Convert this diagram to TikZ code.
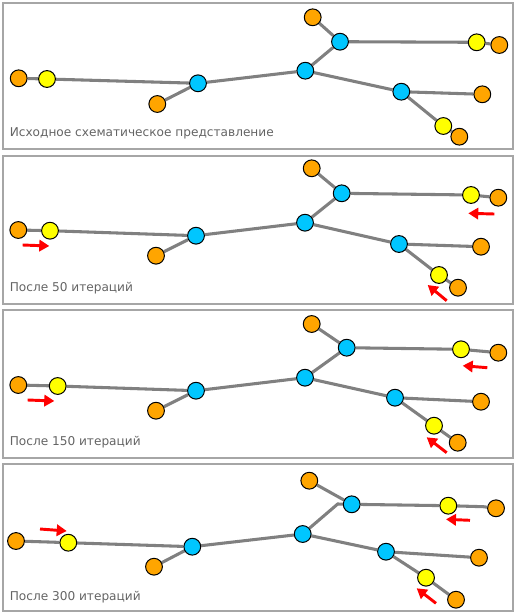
\documentclass[tikz,border=0pt]{standalone}
\usepackage{fontspec}
\setmainfont{DejaVu Sans}
\usetikzlibrary{arrows.meta,backgrounds}
\definecolor{nodeorange}{RGB}{255,165,0}
\definecolor{nodeblue}{RGB}{0,198,255}
\definecolor{nodeyellow}{RGB}{255,255,0}
\definecolor{edgegray}{RGB}{128,128,128}
\definecolor{framegray}{RGB}{166,166,166}
\definecolor{textgray}{RGB}{100,100,100}
\tikzset{every picture/.style={line width=0.75pt}}
\tikzset{
  vtx/.style={circle,draw=black,line width=0.75pt,minimum size=12.6pt,inner sep=0pt},
  ov/.style={vtx,fill=nodeorange},
  bv/.style={vtx,fill=nodeblue},
  yv/.style={vtx,fill=nodeyellow},
  edge/.style={draw=edgegray,line width=2.3pt},
  frame/.style={draw=framegray,line width=1.5pt},
  caption/.style={anchor=west,text=textgray,font=\fontsize{9.1}{11}\selectfont,inner sep=0pt},
  movearrow/.style={draw=red,line width=2.2pt,-{Triangle[length=7.5pt,width=8.5pt]}}
}

\begin{document}
\begin{tikzpicture}[x=0.75pt,y=0.75pt,yscale=-1,xscale=1]
\useasboundingbox (0,0) rectangle (515,614);

%Frames
\draw[frame] (2.5,2.5) rectangle (512.5,149);
\draw[frame] (2.5,156) rectangle (512.5,304);
\draw[frame] (2.5,310) rectangle (512.5,458);
\draw[frame] (2.5,464) rectangle (512.5,611);

%Panel 1
\node[ov] (oL1) at (18.7,78.3) {};
\node[yv] (yL1) at (47,79) {};
\node[bv] (bL1) at (198,83.3) {};
\node[ov] (oBL1) at (157.3,104) {};
\node[bv] (bC1) at (305.3,70.7) {};
\node[ov] (oT1) at (312.7,17.3) {};
\node[bv] (bT1) at (340,41.7) {};
\node[yv] (yR1) at (476.7,42.3) {};
\node[ov] (oR1) at (499.3,45) {};
\node[bv] (bR1) at (401.3,91.7) {};
\node[ov] (oRM1) at (482.3,94.3) {};
\node[yv] (yB1) at (443.3,126) {};
\node[ov] (oB1) at (459.3,136.7) {};
\begin{scope}[on background layer]
\draw[edge] (oL1) -- (yL1) -- (bL1) -- (bC1) -- (bT1) -- (yR1) -- (oR1);
\draw[edge] (oBL1) -- (bL1);
\draw[edge] (oT1) -- (bT1);
\draw[edge] (bC1) -- (bR1) -- (oRM1);
\draw[edge] (bR1) -- (yB1) -- (oB1);
\end{scope}
\node[caption] (cap1) at (9.3,133.3) {Исходное схематическое представление};

%Panel 2
\node[ov] (oL2) at (18.3,230) {};
\node[yv] (yL2) at (50,230.7) {};
\node[bv] (bL2) at (196,235.7) {};
\node[ov] (oBL2) at (156,255.7) {};
\node[bv] (bC2) at (305,222.7) {};
\node[ov] (oT2) at (311.7,168.3) {};
\node[bv] (bT2) at (341.7,193.3) {};
\node[yv] (yR2) at (471,195) {};
\node[ov] (oR2) at (498.3,197.7) {};
\node[bv] (bR2) at (399,244) {};
\node[ov] (oRM2) at (481,246.7) {};
\node[yv] (yB2) at (439,275) {};
\node[ov] (oB2) at (458,287.7) {};
\begin{scope}[on background layer]
\draw[edge] (oL2) -- (yL2) -- (bL2) -- (bC2) -- (bT2) -- (yR2) -- (oR2);
\draw[edge] (oBL2) -- (bL2);
\draw[edge] (oT2) -- (bT2);
\draw[edge] (bC2) -- (bR2) -- (oRM2);
\draw[edge] (bR2) -- (yB2) -- (oB2);
\end{scope}
\draw[movearrow] (22.7,245) -- (49.3,246);
\draw[movearrow] (494.3,214) -- (468.3,213.3);
\draw[movearrow] (446.7,300.7) -- (427.7,285);
\node[caption] (cap2) at (9.3,287.7) {После 50 итераций};

%Panel 3
\node[ov] (oL3) at (18.3,385) {};
\node[yv] (yL3) at (57.7,386) {};
\node[bv] (bL3) at (196,390.7) {};
\node[ov] (oBL3) at (156,410.7) {};
\node[bv] (bC3) at (305,377.7) {};
\node[ov] (oT3) at (311.7,324) {};
\node[bv] (bT3) at (346.7,347.7) {};
\node[yv] (yR3) at (461,349.3) {};
\node[ov] (oR3) at (498.3,352.7) {};
\node[bv] (bR3) at (395,397.7) {};
\node[ov] (oRM3) at (481,401.7) {};
\node[yv] (yB3) at (434,425.7) {};
\node[ov] (oB3) at (457.7,442.7) {};
\begin{scope}[on background layer]
\draw[edge] (oL3) -- (yL3) -- (bL3) -- (bC3) -- (bT3) -- (yR3) -- (oR3);
\draw[edge] (oBL3) -- (bL3);
\draw[edge] (oT3) -- (bT3);
\draw[edge] (bC3) -- (bR3) -- (oRM3);
\draw[edge] (bR3) -- (yB3) -- (oB3);
\end{scope}
\draw[movearrow] (27.7,400) -- (54.3,401);
\draw[movearrow] (487.3,367.7) -- (462.7,365.7);
\draw[movearrow] (446.7,452.7) -- (426.7,437.3);
\node[caption] (cap3) at (9.3,441.7) {После 150 итераций};

%Panel 4
\node[ov] (oL4) at (16,541) {};
\node[yv] (yL4) at (68.3,542.7) {};
\node[bv] (bL4) at (192.3,546.7) {};
\node[ov] (oBL4) at (154,566.7) {};
\node[bv] (bC4) at (302.7,534) {};
\node[ov] (oT4) at (309.3,480.7) {};
\node[bv] (bT4) at (351.7,504.3) {};
\node[yv] (yR4) at (448.3,505.7) {};
\node[ov] (oR4) at (496,508.3) {};
\node[bv] (bR4) at (386,551.7) {};
\node[ov] (oRM4) at (479,557.7) {};
\node[yv] (yB4) at (426,577.7) {};
\node[ov] (oB4) at (456,599.7) {};
\coordinate (kL4) at (48.3,542);
\coordinate (kT4) at (337.7,504);
\coordinate (kR4) at (483.3,506.7);
\begin{scope}[on background layer]
\draw[edge] (oL4) -- (kL4) -- (yL4) -- (bL4) -- (bC4) -- (kT4) -- (bT4) -- (yR4) -- (kR4) -- (oR4);
\draw[edge] (oBL4) -- (bL4);
\draw[edge] (oT4) -- (bT4);
\draw[edge] (bC4) -- (bR4) -- (oRM4);
\draw[edge] (bR4) -- (yB4) -- (oB4);
\end{scope}
\draw[movearrow] (40,529) -- (66.7,531);
\draw[movearrow] (470,520.3) -- (446,519.3);
\draw[movearrow] (436,603.3) -- (416.7,588.3);
\node[caption] (cap4) at (9.3,596.7) {После 300 итераций};

\end{tikzpicture}
\end{document}
